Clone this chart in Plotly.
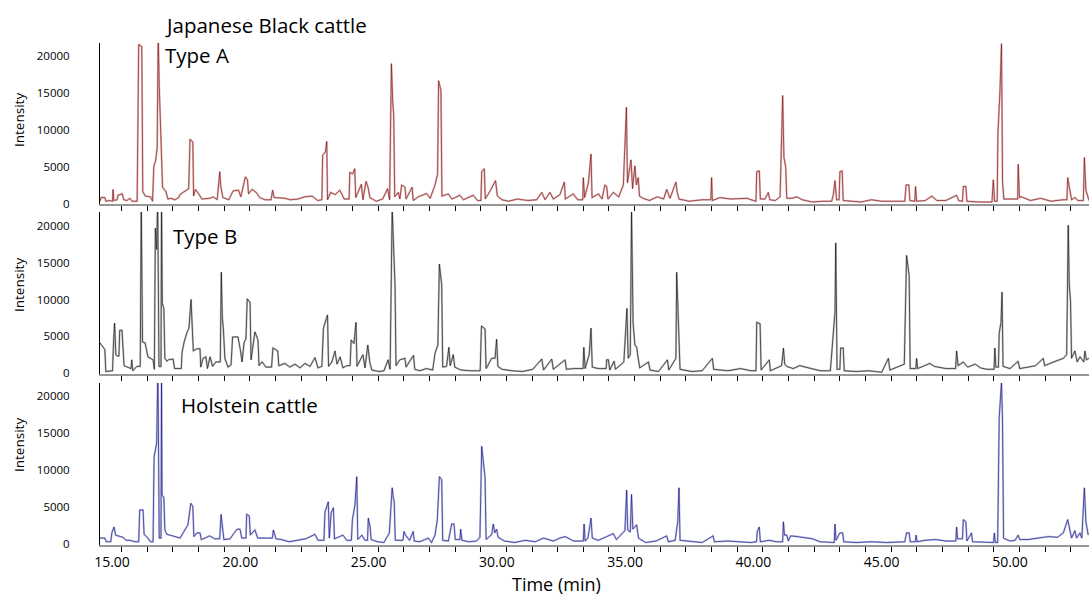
import plotly.graph_objects as go

# ---------------- data (time in min, intensity) ----------------
type_a = [
 (14.53,300),(14.58,800),(14.72,800),(14.76,300),(14.90,400),(15.02,300),(15.04,1900),(15.07,400),
 (15.20,500),(15.23,1100),(15.40,1300),(15.46,500),(15.58,400),(15.70,700),(15.78,300),(15.98,300),
 (16.04,21500),(16.16,21200),(16.20,1600),(16.30,1000),(16.50,900),(16.58,300),(16.63,5000),(16.70,5800),
 (16.76,7500),(16.80,23000),(16.84,16000),(16.93,8000),(16.97,2200),(17.10,1600),(17.18,600),(17.30,700),
 (17.45,500),(17.60,800),(17.65,1200),(17.77,1500),(17.92,1900),(17.99,2000),(18.04,8700),(18.15,8300),
 (18.18,1000),(18.25,1900),(18.38,1300),(18.50,600),(18.82,700),(18.95,900),(19.10,500),(19.20,4300),
 (19.24,2300),(19.32,800),(19.55,500),(19.72,1700),(19.93,1800),(20.02,900),(20.20,3600),(20.28,3200),
 (20.32,1300),(20.46,1900),(20.62,1500),(20.76,800),(20.96,500),(21.20,500),(21.26,1800),(21.32,800),
 (21.74,700),(21.95,500),(22.25,600),(22.52,900),(22.80,1000),(23.02,400),(23.18,500),(23.21,6500),
 (23.32,7000),(23.37,8400),(23.40,500),(23.52,1500),(23.70,1200),(23.88,1800),(24.05,600),(24.24,600),
 (24.27,4200),(24.38,4000),(24.46,4700),(24.50,800),(24.72,2600),(24.78,500),(24.90,3000),(24.98,2200),
 (25.05,800),(25.30,300),(25.55,600),(25.74,2000),(25.82,500),(25.89,18900),(25.94,13900),(25.98,11900),
 (26.02,900),(26.16,1500),(26.22,600),(26.29,2500),(26.42,2200),(26.46,600),(26.70,2200),(26.74,400),
 (26.94,900),(27.26,1350),(27.40,700),(27.59,2500),(27.69,4000),(27.73,16600),(27.82,15300),(27.86,1000),
 (28.11,1300),(28.25,600),(28.56,1100),(28.70,500),(29.08,1100),(29.25,400),(29.38,400),(29.41,4300),
 (29.51,4700),(29.55,600),(29.77,1900),(29.86,2500),(29.95,3100),(30.02,1000),(30.20,500),(30.45,300),
 (30.80,600),(31.20,400),(31.55,500),(31.75,1500),(31.88,500),(32.07,1500),(32.20,600),(32.46,1200),
 (32.63,2900),(32.67,600),(32.98,1300),(33.15,500),(33.35,500),(33.37,3500),(33.42,800),(33.57,2800),
 (33.67,6700),(33.71,800),(33.96,1300),(34.10,600),(34.21,2500),(34.28,2300),(34.33,600),(34.54,1500),
 (34.75,900),(34.93,2500),(35.05,13000),(35.09,2800),(35.16,4700),(35.23,5900),(35.29,2000),(35.38,5100),
 (35.44,2500),(35.51,3500),(35.56,1000),(35.70,700),(35.95,400),(36.25,900),(36.50,600),(36.62,1900),
 (36.75,700),(36.88,2000),(36.98,2900),(37.03,1500),(37.10,600),(37.50,300),(38.00,500),(38.34,500),
 (38.37,3500),(38.40,400),(38.70,800),(39.10,600),(39.50,600),(39.75,700),(40.00,400),(40.10,300),
 (40.13,4300),(40.23,4400),(40.27,600),(40.45,600),(40.58,1500),(40.64,500),(40.85,400),(41.04,900),
 (41.14,14600),(41.19,6200),(41.26,4900),(41.30,700),(41.50,700),(41.70,900),(41.90,500),(42.30,200),
 (42.70,300),(43.05,300),(43.11,1100),(43.18,3100),(43.24,500),(43.34,500),(43.37,4300),(43.46,4400),
 (43.50,400),(43.80,300),(44.20,200),(44.60,500),(45.00,300),(45.50,300),(45.90,300),(45.95,2500),
 (46.06,2500),(46.10,400),(46.29,300),(46.32,2300),(46.36,300),(46.70,400),(46.95,1000),(47.15,400),
 (47.50,400),(47.92,1100),(48.00,400),(48.15,300),(48.18,2300),(48.28,2300),(48.32,300),(48.80,200),
 (49.30,200),(49.35,3200),(49.40,300),(49.50,300),(49.53,9400),(49.61,15300),(49.67,21600),(49.71,3000),
 (49.76,600),(50.10,600),(50.30,600),(50.32,5300),(50.37,800),(50.45,900),(50.80,400),(51.20,700),
 (51.60,300),(52.07,500),(52.22,500),(52.25,3500),(52.34,2000),(52.40,500),(52.53,800),(52.65,400),
 (52.86,400),(52.90,6200),(52.96,1800),(53.08,400),
]

type_b = [
 (14.53,4100),(14.72,3200),(14.76,200),(15.02,300),(15.06,4200),(15.10,6800),(15.15,2500),(15.20,2300),
 (15.27,2300),(15.30,5800),(15.39,5800),(15.43,3400),(15.47,1000),(15.60,800),(15.74,600),(15.77,1800),
 (15.81,300),(15.97,900),(16.10,900),(16.14,23000),(16.19,4200),(16.29,4100),(16.40,2200),(16.60,1800),
 (16.65,500),(16.69,19700),(16.74,16800),(16.78,24000),(16.83,900),(16.91,900),(16.93,24000),(16.96,9500),
 (17.02,8800),(17.06,2000),(17.14,1600),(17.20,1800),(17.38,1900),(17.44,600),(17.70,600),(17.73,2800),
 (17.81,4200),(17.92,5500),(18.00,6100),(18.08,10000),(18.12,6700),(18.17,3000),(18.31,3300),(18.43,3300),
 (18.46,800),(18.55,2000),(18.66,2200),(18.72,600),(18.82,2200),(18.92,900),(19.05,1500),(19.22,1500),
 (19.26,13700),(19.30,7500),(19.34,6000),(19.40,2000),(19.52,800),(19.64,1100),(19.70,4900),(19.91,4900),
 (20.00,3200),(20.07,1500),(20.15,4200),(20.22,4600),(20.27,10100),(20.38,9600),(20.42,1800),(20.50,3600),
 (20.57,5600),(20.69,4500),(20.73,1000),(20.85,1500),(21.00,800),(21.22,800),(21.27,3400),(21.46,3000),
 (21.50,1000),(21.74,1300),(21.93,800),(22.13,1200),(22.33,700),(22.52,1300),(22.72,900),(22.91,2100),
 (23.03,700),(23.18,900),(23.24,6100),(23.40,7900),(23.44,900),(23.57,1500),(23.69,3000),(23.77,1200),
 (23.89,2200),(24.00,700),(24.15,1000),(24.28,1000),(24.32,4500),(24.43,4000),(24.51,6900),(24.55,900),
 (24.78,2500),(24.86,700),(24.97,3800),(25.05,1400),(25.13,400),(25.40,200),(25.60,300),(25.76,1800),
 (25.84,500),(25.92,22500),(25.96,18400),(26.03,12000),(26.07,1000),(26.22,1800),(26.42,2000),(26.46,800),
 (26.75,2400),(26.80,500),(27.00,300),(27.25,600),(27.50,400),(27.59,2700),(27.70,3800),(27.76,14800),
 (27.85,12000),(27.89,800),(28.04,900),(28.13,3500),(28.18,1000),(28.30,2500),(28.36,800),(28.60,400),
 (29.00,300),(29.35,300),(29.40,6400),(29.54,6000),(29.58,600),(29.80,2000),(29.93,2000),(29.99,4600),
 (30.04,900),(30.20,500),(30.60,300),(31.00,200),(31.40,500),(31.75,1900),(31.82,400),(32.14,1900),
 (32.20,500),(32.66,1800),(32.71,500),(33.00,600),(33.36,600),(33.39,3500),(33.44,600),(33.60,2500),
 (33.67,6100),(33.72,800),(33.95,600),(34.26,600),(34.28,1800),(34.35,1800),(34.40,400),(34.57,1600),
 (34.62,500),(34.95,1500),(34.99,3900),(35.07,8800),(35.12,2000),(35.20,2500),(35.25,22000),(35.28,9300),
 (35.31,6800),(35.38,3800),(35.45,3500),(35.50,2200),(35.57,700),(35.91,1500),(35.97,400),(36.30,200),
 (36.65,1800),(36.70,400),(36.98,2000),(37.01,13700),(37.05,9200),(37.10,5600),(37.14,500),(37.60,200),
 (38.00,300),(38.40,2000),(38.45,500),(39.00,300),(39.50,600),(39.90,300),(40.10,300),(40.13,6900),
 (40.26,6700),(40.30,400),(40.62,1800),(40.66,300),(41.10,1000),(41.17,3400),(41.22,1200),(41.30,900),
 (41.55,600),(41.80,1000),(42.05,800),(42.30,600),(42.60,300),(43.00,300),(43.11,5500),(43.18,8400),
 (43.21,17700),(43.26,500),(43.37,500),(43.40,3400),(43.50,3400),(43.54,300),(44.00,200),(44.50,300),
 (45.00,100),(45.26,2000),(45.32,400),(45.88,1200),(45.97,16000),(46.07,13300),(46.11,600),(46.33,600),
 (46.36,2000),(46.40,600),(46.88,1300),(47.05,900),(47.50,600),(47.88,600),(47.92,3000),(47.98,1000),
 (48.18,1500),(48.35,800),(48.65,1200),(48.85,700),(49.10,500),(49.38,500),(49.41,3400),(49.45,800),
 (49.55,800),(49.58,5400),(49.65,6900),(49.69,11000),(49.73,900),(50.00,600),(50.32,1600),(50.38,600),
 (50.70,800),(51.00,1000),(51.30,2000),(51.35,1000),(51.70,1500),(52.08,2000),(52.21,2500),(52.27,20100),
 (52.31,12200),(52.36,9700),(52.40,2000),(52.53,3000),(52.62,1500),(52.73,2200),(52.88,1500),(52.92,3000),
 (52.98,1800),(53.08,2000),
]

holstein = [
 (14.53,800),(14.72,800),(14.78,300),(14.95,300),(15.00,1600),(15.08,2300),(15.14,1200),(15.31,1000),
 (15.43,900),(15.55,500),(15.70,500),(15.90,300),(16.04,300),(16.08,4600),(16.21,4600),(16.25,1300),
 (16.40,800),(16.50,300),(16.60,300),(16.64,11700),(16.74,13700),(16.79,24000),(16.84,800),(16.91,800),
 (16.93,24000),(16.95,6600),(17.02,6300),(17.06,1900),(17.14,1300),(17.26,1200),(17.45,1000),(17.65,800),
 (17.77,1500),(17.96,2600),(18.07,5500),(18.15,5100),(18.19,1000),(18.31,1500),(18.43,1500),(18.48,600),
 (18.68,900),(18.80,1100),(19.00,700),(19.20,700),(19.25,4000),(19.31,2500),(19.36,600),(19.60,700),
 (19.87,2000),(19.99,2000),(20.06,800),(20.22,800),(20.25,4000),(20.35,3800),(20.39,1200),(20.57,1900),
 (20.68,800),(21.25,800),(21.29,1900),(21.39,700),(21.60,600),(21.90,300),(22.20,500),(22.55,700),
 (22.91,1300),(23.03,500),(23.26,500),(23.30,4300),(23.43,5700),(23.47,800),(23.54,4200),(23.63,4900),
 (23.67,700),(24.00,1200),(24.15,500),(24.33,500),(24.37,3300),(24.47,5300),(24.54,9100),(24.58,600),
 (24.74,1200),(24.86,500),(24.96,500),(24.99,3500),(25.06,2300),(25.10,600),(25.35,300),(25.60,200),
 (25.81,1500),(25.92,7600),(25.96,6400),(26.00,5700),(26.04,500),(26.34,500),(26.38,1700),(26.44,1200),
 (26.60,500),(26.74,1700),(26.78,400),(27.00,300),(27.33,800),(27.45,200),(27.59,1200),(27.68,3300),
 (27.76,9100),(27.85,8700),(27.89,500),(28.11,400),(28.24,2700),(28.33,2700),(28.38,600),(28.56,600),
 (28.59,2000),(28.64,500),(28.90,300),(29.21,400),(29.34,900),(29.41,13200),(29.47,11200),(29.54,9000),
 (29.58,600),(29.80,1300),(29.86,2700),(29.92,1500),(29.99,2000),(30.05,900),(30.30,400),(30.70,200),
 (31.10,500),(31.50,300),(31.81,800),(32.20,400),(32.45,800),(32.66,1000),(33.00,400),(33.37,400),
 (33.40,2700),(33.44,400),(33.55,800),(33.67,3500),(33.72,800),(33.95,500),(34.28,1000),(34.54,1400),
 (34.66,600),(34.99,1800),(35.06,7300),(35.10,1900),(35.20,1600),(35.25,6700),(35.30,2000),(35.38,2400),
 (35.45,2600),(35.52,800),(35.80,200),(36.20,400),(36.62,1100),(36.68,300),(36.95,500),(37.05,3000),
 (37.10,7600),(37.14,500),(37.60,300),(38.00,200),(38.43,1100),(38.48,300),(39.00,400),(39.50,300),
 (39.90,200),(40.12,300),(40.15,1700),(40.23,2300),(40.27,300),(40.62,500),(40.90,300),(41.14,300),
 (41.17,3000),(41.21,1200),(41.30,1200),(41.36,400),(41.45,1100),(41.70,1000),(42.00,800),(42.30,700),
 (42.60,300),(43.00,200),(43.15,200),(43.18,2700),(43.22,500),(43.37,1500),(43.48,1500),(43.52,300),
 (44.00,200),(44.60,300),(45.20,200),(45.90,300),(45.97,1500),(46.07,1500),(46.11,300),(46.31,300),
 (46.34,1200),(46.38,300),(46.70,500),(47.10,600),(47.50,400),(47.89,400),(47.92,2300),(47.96,700),
 (48.15,700),(48.18,3300),(48.28,3000),(48.32,400),(48.50,1500),(48.54,300),(49.00,200),(49.36,200),
 (49.39,1500),(49.43,200),(49.52,200),(49.58,17100),(49.67,21900),(49.71,16400),(49.75,800),(50.00,400),
 (50.20,500),(50.32,1200),(50.38,600),(50.70,600),(51.10,800),(51.50,1000),(51.85,900),(52.08,1500),
 (52.25,3300),(52.34,2000),(52.40,800),(52.53,1800),(52.60,800),(52.73,1500),(52.80,800),(52.90,7600),
 (52.96,3000),(53.05,1200),
]

x_tick_vals = [15, 20, 25, 30, 35, 40, 45, 50]
x_tick_text = ["15.00", "20.00", "25.00", "30.00", "35.00", "40.00", "45.00", "50.00"]
y_tick_vals = [0, 5000, 10000, 15000, 20000]
y_tick_text = ["0", "5000", "10000", "15000", "20000"]

# ---------------- layout geometry ----------------
W, H = 1089, 597
FONT = "Open Sans"

def fx(px):
    return px / W

def fy(px):
    return 1 - px / H

panels = [
    # data, dark colour, light colour, top px, bottom px, y-range
    (type_a, "rgba(128,0,0,0.85)", "rgba(205,160,160,0.7)", 43, 204, [-70, 21690]),
    (type_b, "rgba(0,0,0,0.85)", "rgba(170,170,170,0.7)", 212, 374, [-136, 21900]),
    (holstein, "rgba(0,0,128,0.85)", "rgba(170,170,212,0.7)", 383, 545, [-135, 21750]),
]

fig = go.Figure()
layout = dict(
    width=W, height=H,
    margin=dict(l=0, r=0, t=0, b=0, autoexpand=False),
    paper_bgcolor="white", plot_bgcolor="white",
    showlegend=False,
    font=dict(family=FONT, color="black"),
)

for i, (pts, dark, light, top, bot, yr) in enumerate(panels):
    n = i + 1
    xs = [p[0] for p in pts]
    ys = [p[1] for p in pts]
    xa = "x" if n == 1 else f"x{n}"
    ya = "y" if n == 1 else f"y{n}"
    fig.add_trace(go.Scatter(x=xs, y=ys, mode="lines", xaxis=xa, yaxis=ya,
                             line=dict(color=light, width=2.0), hoverinfo="skip"))
    fig.add_trace(go.Scatter(x=xs, y=ys, mode="lines", xaxis=xa, yaxis=ya,
                             line=dict(color=dark, width=0.7)))
    xkey = "xaxis" if n == 1 else f"xaxis{n}"
    ykey = "yaxis" if n == 1 else f"yaxis{n}"
    layout[xkey] = dict(
        domain=[fx(100), 1.0], range=[14.532, 53.08], automargin=False,
        anchor=ya, showline=True, linecolor="rgb(150,150,150)", linewidth=1.5,
        showgrid=False, zeroline=False,
        tickmode="array", tickvals=x_tick_vals, ticktext=x_tick_text,
        ticks="", showticklabels=(n == 3),
        tickfont=dict(size=14, family=FONT, color="black"),
        ticklabelstandoff=3,
        minor=dict(tickmode="linear", tick0=15.37, dtick=1, ticks="outside",
                   ticklen=5, tickwidth=1, tickcolor="black", showgrid=False),
    )
    layout[ykey] = dict(
        domain=[fy(bot), fy(top)], range=yr, automargin=False,
        anchor=xa, showline=True, linecolor="black", linewidth=1,
        showgrid=False, zeroline=False,
        tickmode="array", tickvals=y_tick_vals, ticktext=y_tick_text,
        ticks="", tickfont=dict(size=11.5, family=FONT, color="black"),
        ticklabelstandoff=27,
    )

fig.update_layout(**layout)

annos = []
for yc in [120, 285, 445]:
    annos.append(dict(text="Intensity", x=fx(19), y=fy(yc), xref="paper", yref="paper",
                      xanchor="center", yanchor="middle", textangle=-90, showarrow=False,
                      font=dict(size=13.5, family=FONT, color="black")))
labels = [
    ("Japanese Black cattle", 163, 25, 20.5),
    ("Type A", 163, 55, 20.5),
    ("Type B", 171, 236, 20.5),
    ("Holstein cattle", 179, 405, 20.5),
]
for txt, lx, ly, sz in labels:
    annos.append(dict(text=txt, x=fx(lx), y=fy(ly), xref="paper", yref="paper",
                      xanchor="left", yanchor="middle", showarrow=False,
                      font=dict(size=sz, family=FONT, color="black")))
annos.append(dict(text="Time (min)", x=fx(556), y=fy(584), xref="paper", yref="paper",
                  xanchor="center", yanchor="middle", showarrow=False,
                  font=dict(size=18, family=FONT, color="black")))
fig.update_layout(annotations=annos)

fig.write_html("out.html", config={"displayModeBar": False},
               post_script="document.body.style.margin='0';document.body.style.overflow='hidden';")
